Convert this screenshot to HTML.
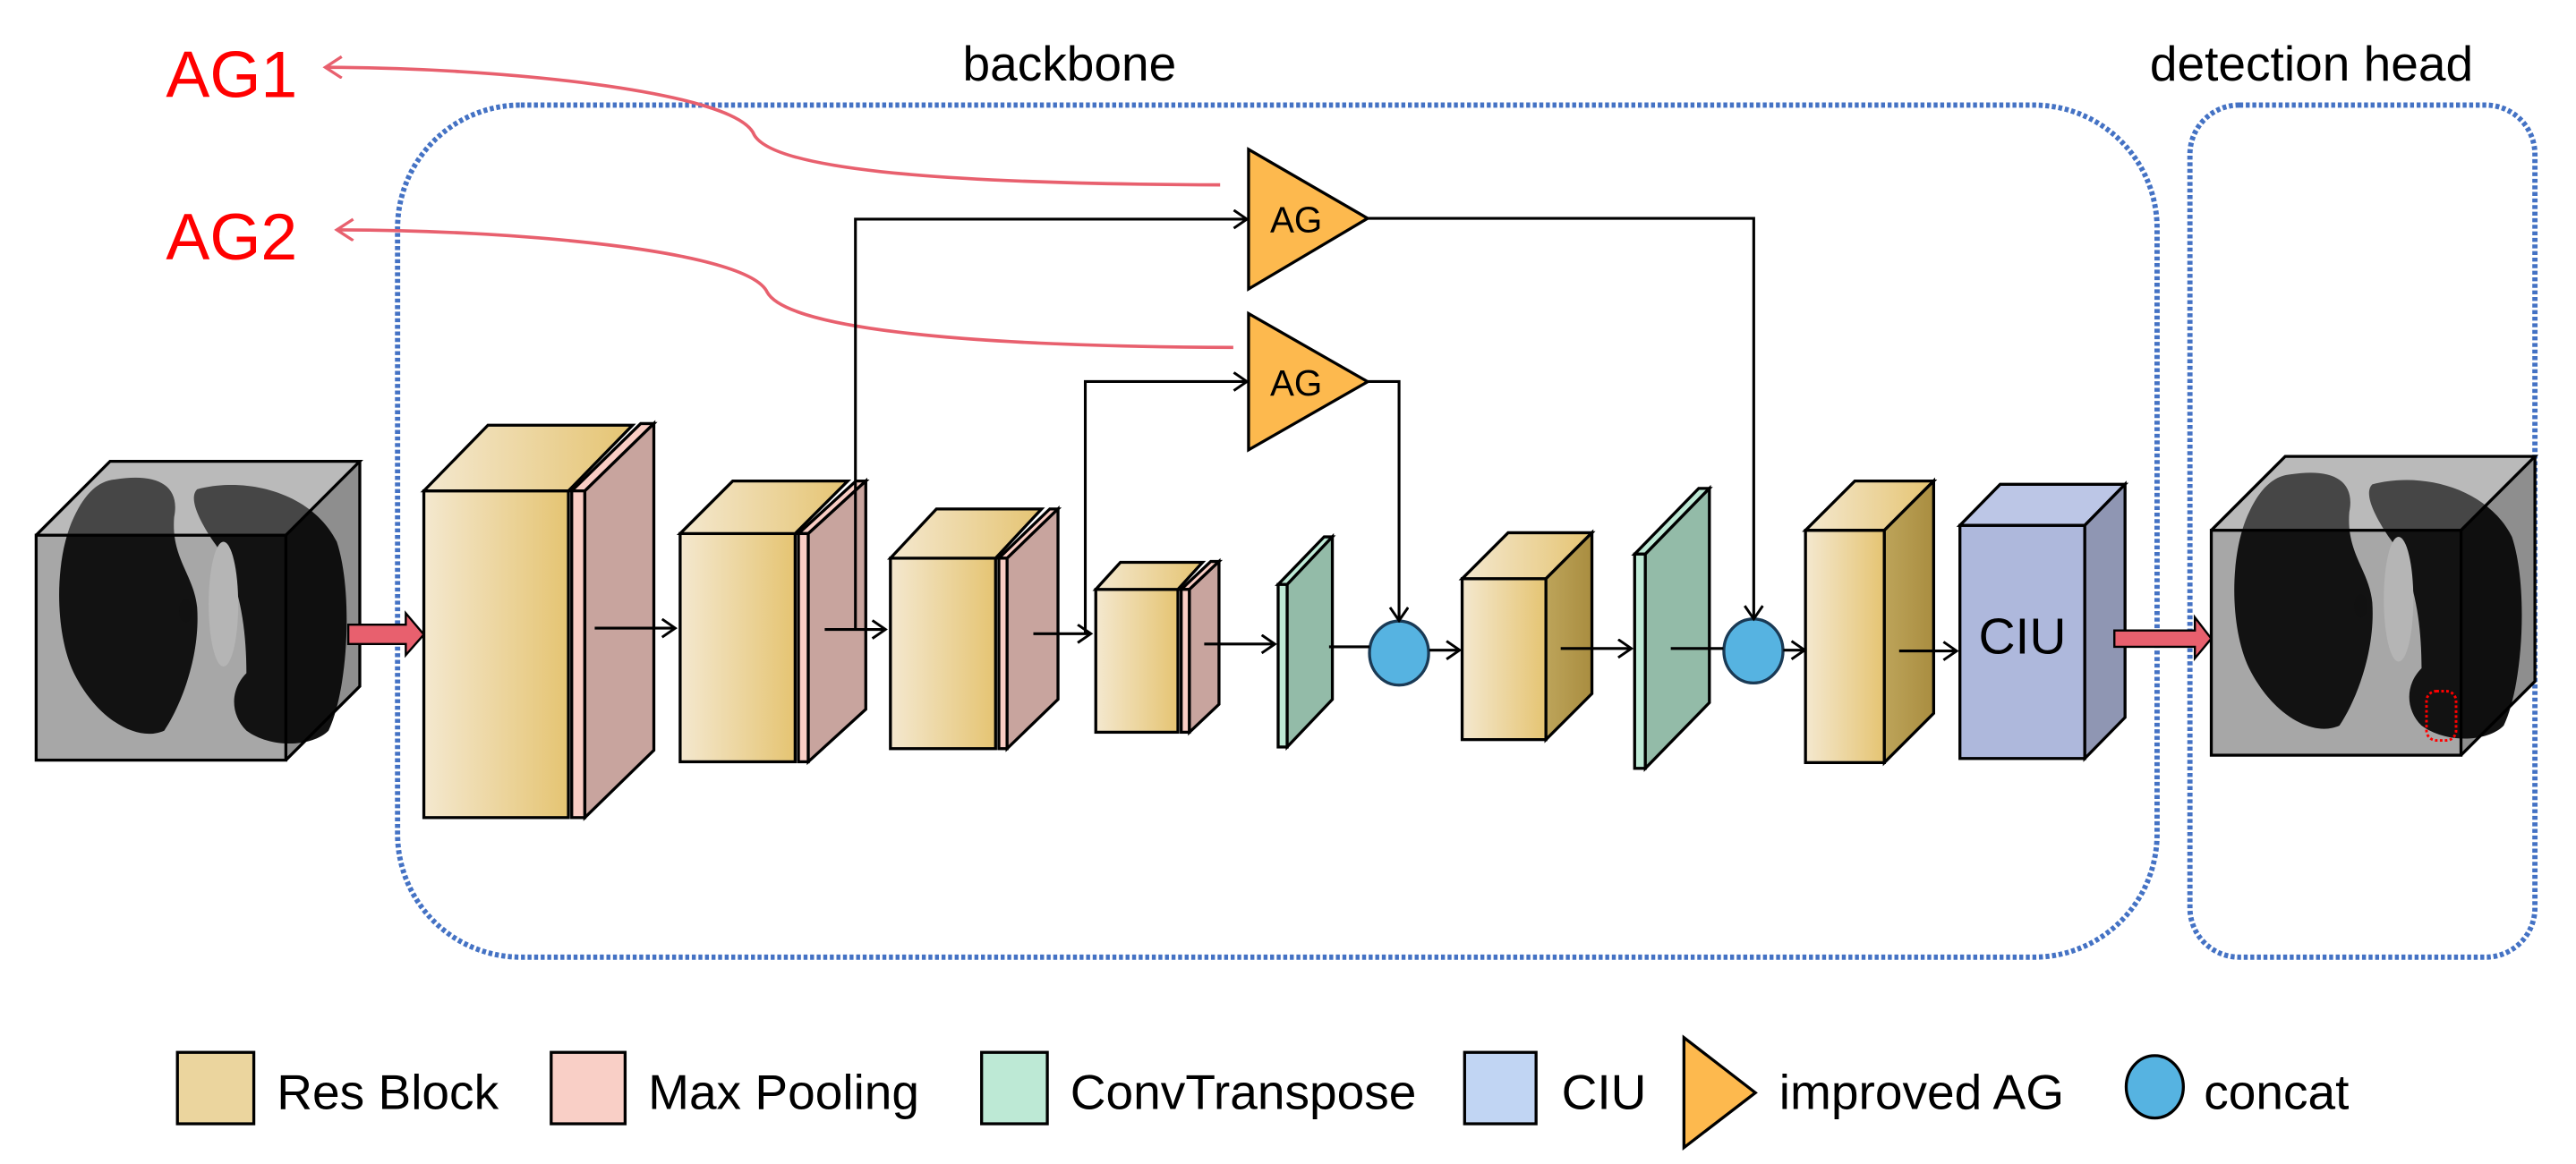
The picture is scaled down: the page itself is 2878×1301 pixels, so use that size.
<!DOCTYPE html>
<html><head><meta charset="utf-8"><style>
html,body{margin:0;padding:0;background:#fff;}
svg{display:block;}
text{font-family:"Liberation Sans",Arial,sans-serif;}
</style></head><body>
<svg width="2878" height="1301" viewBox="0 0 1568 709" preserveAspectRatio="none" xmlns="http://www.w3.org/2000/svg">
<defs>
<linearGradient id="res" x1="0" x2="1" y1="0" y2="0"><stop offset="0" stop-color="#f4e8cf"/><stop offset="1" stop-color="#e5c472"/></linearGradient>
<linearGradient id="gold" x1="0" x2="1" y1="0" y2="0"><stop offset="0" stop-color="#bda45a"/><stop offset="1" stop-color="#a98d40"/></linearGradient>
<marker id="ah" markerUnits="userSpaceOnUse" markerWidth="12" markerHeight="14" refX="9" refY="6" orient="auto"><path d="M1,0.5 L9,6 L1,11.5" fill="none" stroke="#000" stroke-width="1.6"/></marker>
<marker id="rh" markerUnits="userSpaceOnUse" markerWidth="14" markerHeight="16" refX="11" refY="7" orient="auto"><path d="M1,0.5 L11,7 L1,13.5" fill="none" stroke="#e8606e" stroke-width="1.8"/></marker>
<g id="lungcube">
  <polygon points="22,326 67,281 219,281 219,418 174,463 22,463" fill="#a7a7a7"/>
  <path d="M70,292 C95,288 110,295 106,315 C104,340 118,350 120,370 C122,400 110,430 100,445 C85,452 60,440 45,410 C33,385 33,340 45,315 C52,300 60,293 70,292Z" fill="#121212"/>
  <path d="M120,298 C150,290 190,300 205,330 C215,360 212,420 200,445 C190,455 165,456 150,445 C140,435 140,420 150,410 C150,380 145,350 130,330 C120,315 115,303 120,298Z" fill="#121212"/>
  <ellipse cx="136" cy="368" rx="9" ry="38" fill="#b5b5b5"/>
  <ellipse cx="113" cy="372" rx="4" ry="7" fill="#111"/>
  <polygon points="22,326 67,281 219,281 174,326" fill="#fff" opacity="0.22"/>
  <polygon points="174,326 219,281 219,418 174,463" fill="#000" opacity="0.15"/>
  <g fill="none" stroke="#000" stroke-width="1.8">
    <rect x="22" y="326" width="152" height="137"/>
    <polyline points="22,326 67,281 219,281 174,326"/>
    <polyline points="219,281 219,418 174,463"/>
  </g>
</g>
</defs>

<rect x="242" y="64" width="1071" height="519" rx="75" ry="75" fill="none" stroke="#4472c4" stroke-width="3.2" stroke-dasharray="2.4 1.6"/>
<rect x="1333" y="64" width="210" height="519" rx="30" ry="30" fill="none" stroke="#4472c4" stroke-width="3.2" stroke-dasharray="2.4 1.6"/>

<text x="651" y="49" font-size="30" text-anchor="middle" fill="#000">backbone</text>
<text x="1407" y="49" font-size="30" text-anchor="middle" fill="#000">detection head</text>
<text x="101" y="59" font-size="40" fill="#ff0000">AG1</text>
<text x="101" y="158" font-size="40" fill="#ff0000">AG2</text>

<path d="M742.7,112.6 C560,112 470,102 459,82 C448,55 300,41 198,41" fill="none" stroke="#e8606e" stroke-width="2" marker-end="url(#rh)"/>
<path d="M750.7,211.6 C570,211 478,198 467,178 C455,152 310,140 205,140" fill="none" stroke="#e8606e" stroke-width="2" marker-end="url(#rh)"/>

<use href="#lungcube"/>
<polygon points="212,380.5 247,380.5 247,373.5 258,386.5 247,399 247,392.3 212,392.3" fill="#e8606e" stroke="#000" stroke-width="1.3"/>

<g stroke="#000" stroke-width="1.8" stroke-linejoin="miter">
<rect x="258" y="299" width="88" height="199" fill="url(#res)"/>
<polygon points="258,299 297,259 385,259 346,299" fill="url(#res)"/>
<polygon points="348,299 390,258 398,258 356,299" fill="#f9cdc4"/>
<rect x="348" y="299" width="8" height="199" fill="#f9cdc4"/>
<polygon points="356,299 398,258 398,457 356,498" fill="#c8a49e"/>
<rect x="414" y="325" width="70" height="139" fill="url(#res)"/>
<polygon points="414,325 446,293 516,293 484,325" fill="url(#res)"/>
<polygon points="486,325 521,293 527,293 492,325" fill="#f9cdc4"/>
<rect x="486" y="325" width="6" height="139" fill="#f9cdc4"/>
<polygon points="492,325 527,293 527,432 492,464" fill="#c8a49e"/>
<rect x="542" y="340" width="64" height="116" fill="url(#res)"/>
<polygon points="542,340 570,310 634,310 606,340" fill="url(#res)"/>
<polygon points="608,340 639,310 644,310 613,340" fill="#f9cdc4"/>
<rect x="608" y="340" width="5" height="116" fill="#f9cdc4"/>
<polygon points="613,340 644,310 644,426 613,456" fill="#c8a49e"/>
<rect x="667" y="359" width="50" height="87" fill="url(#res)"/>
<polygon points="667,359 682,342.5 732,342.5 717,359" fill="url(#res)"/>
<polygon points="719,359 737,342 742,342 724,359" fill="#f9cdc4"/>
<rect x="719" y="359" width="5" height="87" fill="#f9cdc4"/>
<polygon points="724,359 742,342 742,429 724,446" fill="#c8a49e"/>
<polygon points="778,356 806,327 811,327 783.5,356" fill="#bde9d5"/>
<rect x="778" y="356" width="5.5" height="99" fill="#bde9d5"/>
<polygon points="783.5,356 811,327 811,426 783.5,455" fill="#93bba8"/>
<rect x="890" y="352.5" width="51" height="98" fill="url(#res)"/>
<polygon points="890,352.5 918,324.5 969,324.5 941,352.5" fill="url(#res)"/>
<polygon points="941,352.5 969,324.5 969,422.5 941,450.5" fill="url(#gold)"/>
<polygon points="995,337.5 1034,297.5 1040.5,297.5 1001.5,337.5" fill="#bde9d5"/>
<rect x="995" y="337.5" width="6.5" height="130.5" fill="#bde9d5"/>
<polygon points="1001.5,337.5 1040.5,297.5 1040.5,428 1001.5,468" fill="#93bba8"/>
<rect x="1099" y="323" width="48" height="141.5" fill="url(#res)"/>
<polygon points="1099,323 1129,293 1177,293 1147,323" fill="url(#res)"/>
<polygon points="1147,323 1177,293 1177,434.5 1147,464.5" fill="url(#gold)"/>
<rect x="1193" y="320" width="76" height="142" fill="#aeb8dc"/>
<polygon points="1193,320 1217.5,295 1293.5,295 1269,320" fill="#bcc6e6"/>
<polygon points="1269,320 1293.5,295 1293.5,437 1269,462" fill="#8f96b3"/>
<polygon points="760,91 832.5,133 760,176" fill="#fdb94e"/>
<polygon points="760,191 832.5,232.5 760,274" fill="#fdb94e"/>
</g>
<text x="1231" y="398" font-size="31" text-anchor="middle" fill="#000">CIU</text>
<text x="789" y="141.5" font-size="22" text-anchor="middle" fill="#000">AG</text>
<text x="789" y="241" font-size="22" text-anchor="middle" fill="#000">AG</text>

<ellipse cx="851.6" cy="397.8" rx="18" ry="19.5" fill="#56b3e1" stroke="#1a3a55" stroke-width="1.8"/>
<ellipse cx="1067.3" cy="396.5" rx="18" ry="19.5" fill="#56b3e1" stroke="#1a3a55" stroke-width="1.8"/>

<g fill="none" stroke="#000" stroke-width="1.7">
<line x1="362" y1="382.6" x2="411" y2="382.6" marker-end="url(#ah)"/>
<line x1="502" y1="383.4" x2="539" y2="383.4" marker-end="url(#ah)"/>
<line x1="629" y1="386" x2="664" y2="386" marker-end="url(#ah)"/>
<line x1="733" y1="392.3" x2="776" y2="392.3" marker-end="url(#ah)"/>
<polyline points="520.7,383 520.7,133.5 759,133.5" marker-end="url(#ah)"/>
<polyline points="660.6,386 660.6,232.4 759,232.4" marker-end="url(#ah)"/>
<polyline points="832.5,133 1067.5,133 1067.5,377" marker-end="url(#ah)"/>
<polyline points="832.5,232.4 851.6,232.4 851.6,378" marker-end="url(#ah)"/>
<line x1="809" y1="394" x2="833.6" y2="394"/>
<line x1="870" y1="396" x2="888.5" y2="396" marker-end="url(#ah)"/>
<line x1="950" y1="395" x2="993" y2="395" marker-end="url(#ah)"/>
<line x1="1017" y1="395" x2="1049" y2="395"/>
<line x1="1085.5" y1="396" x2="1098.5" y2="396" marker-end="url(#ah)"/>
<line x1="1156" y1="396.5" x2="1191" y2="396.5" marker-end="url(#ah)"/>
</g>

<polygon points="1287,384 1336,384 1336,376 1346,389 1336,401 1336,394 1287,394" fill="#e8606e" stroke="#000" stroke-width="1.3"/>

<g transform="translate(1324,-3)"><use href="#lungcube"/></g>
<rect x="1477" y="421" width="18" height="30" rx="6" fill="none" stroke="#ff0000" stroke-width="1.6" stroke-dasharray="1.6 1.4"/>

<g stroke="#000" stroke-width="1.8">
<rect x="108" y="641" width="46.5" height="43.5" fill="#ebd59e"/>
<rect x="335.5" y="641" width="45" height="43.5" fill="#f9cfc6"/>
<rect x="597.5" y="641" width="40" height="43.5" fill="#bde9d5"/>
<rect x="891.5" y="641" width="43.5" height="43.5" fill="#c1d5f3"/>
<polygon points="1025,632 1068.5,665.6 1025,699" fill="#fdb94e"/>
<ellipse cx="1311.6" cy="662" rx="17.4" ry="19" fill="#56b3e1"/>
</g>
<g font-size="30" fill="#000">
<text x="168.5" y="675.5">Res Block</text>
<text x="394.5" y="675.5">Max Pooling</text>
<text x="651.5" y="675.5">ConvTranspose</text>
<text x="950.5" y="675.5">CIU</text>
<text x="1083" y="675.5">improved AG</text>
<text x="1341.5" y="675.5">concat</text>
</g>
</svg>
</body></html>
